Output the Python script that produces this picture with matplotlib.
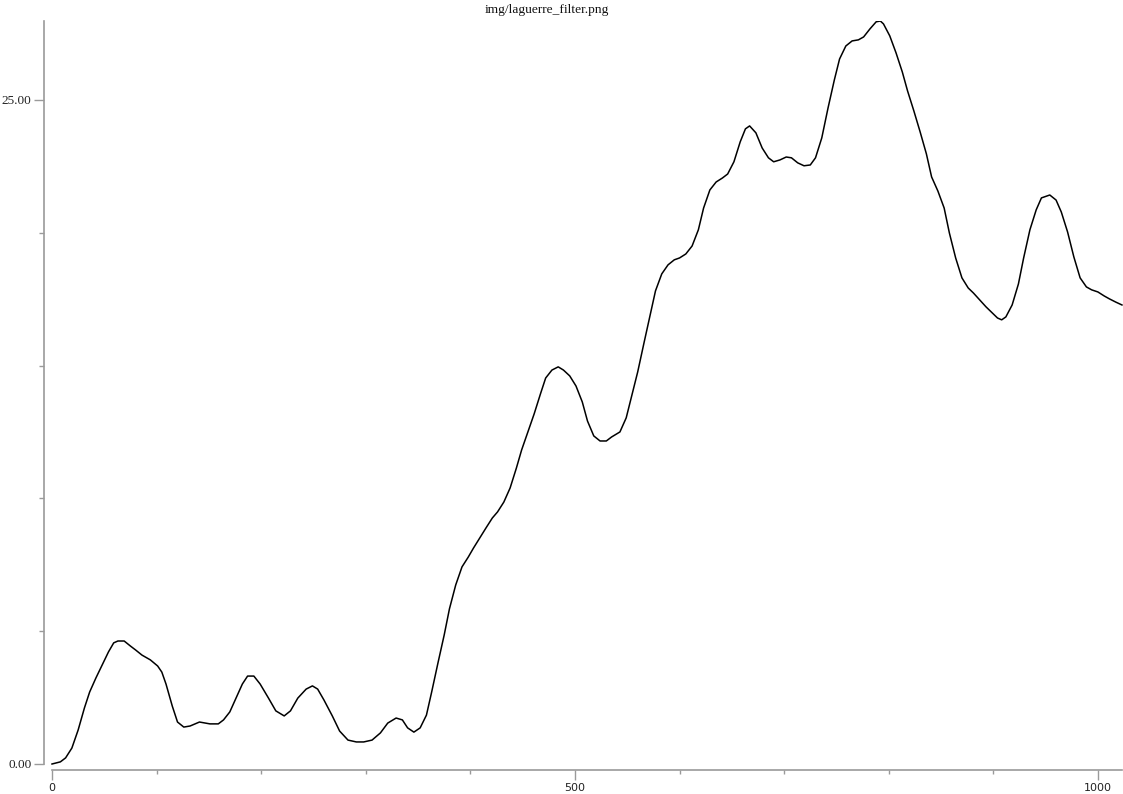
import numpy as np
import matplotlib.pyplot as plt
from matplotlib.ticker import FixedLocator, FixedFormatter

# Filter output
sample = [0, 8, 13, 19, 25, 31, 36, 42, 48, 54, 59, 63, 69, 75, 80, 86, 94, 101, 105, 109,
          115, 120, 126, 132, 141, 151, 159, 164, 170, 176, 182, 187, 193, 199, 207, 214, 222, 228, 235, 243,
          249, 254, 260, 268, 275, 283, 291, 298, 306, 314, 321, 329, 335, 340, 346, 352, 358, 363, 369, 375,
          380, 386, 392, 398, 403, 409, 415, 421, 426, 432, 438, 444, 449, 455, 461, 467, 472, 478, 484, 489,
          495, 501, 507, 512, 518, 524, 530, 535, 543, 549, 554, 560, 566, 572, 577, 583, 589, 595, 600, 606,
          612, 618, 623, 629, 635, 641, 646, 652, 658, 663, 667, 673, 679, 685, 690, 696, 702, 707, 713, 719,
          725, 730, 736, 742, 748, 753, 759, 765, 771, 776, 782, 788, 792, 795, 801, 807, 813, 818, 824, 830,
          836, 841, 847, 853, 858, 864, 870, 876, 881, 887, 893, 899, 904, 908, 912, 918, 924, 929, 935, 941,
          946, 954, 960, 965, 971, 977, 983, 989, 994, 1000, 1006, 1011, 1017, 1023]
value = [0.00, 0.08, 0.23, 0.60, 1.28, 2.11, 2.71, 3.24, 3.73, 4.22, 4.56, 4.63, 4.63, 4.44, 4.29, 4.10, 3.92, 3.69, 3.46, 3.01,
         2.18, 1.58, 1.39, 1.43, 1.58, 1.51, 1.51, 1.66, 1.96, 2.48, 3.01, 3.31, 3.31, 3.01, 2.48, 2.00, 1.81, 2.00, 2.48, 2.82,
         2.94, 2.82, 2.41, 1.81, 1.24, 0.90, 0.83, 0.83, 0.90, 1.17, 1.54, 1.73, 1.66, 1.36, 1.20, 1.36, 1.84, 2.71, 3.80, 4.86,
         5.84, 6.74, 7.42, 7.79, 8.13, 8.51, 8.89, 9.26, 9.49, 9.86, 10.39, 11.14, 11.82, 12.50, 13.18, 13.93, 14.53, 14.83, 14.95, 14.83,
         14.61, 14.23, 13.63, 12.91, 12.35, 12.16, 12.16, 12.31, 12.50, 13.03, 13.82, 14.76, 15.85, 16.91, 17.81, 18.45, 18.79, 18.98, 19.05, 19.20,
         19.50, 20.11, 20.93, 21.61, 21.91, 22.06, 22.21, 22.67, 23.42, 23.91, 24.02, 23.76, 23.19, 22.82, 22.67, 22.74, 22.85, 22.82, 22.63, 22.52,
         22.55, 22.82, 23.57, 24.70, 25.75, 26.54, 27.03, 27.22, 27.26, 27.37, 27.67, 27.94, 27.97, 27.86, 27.41, 26.77, 26.05, 25.34, 24.59, 23.80,
         22.97, 22.10, 21.57, 20.93, 19.99, 19.05, 18.30, 17.92, 17.73, 17.47, 17.21, 16.98, 16.79, 16.72, 16.83, 17.28, 18.07, 19.05, 20.11, 20.86,
         21.31, 21.42, 21.23, 20.78, 20.03, 19.09, 18.30, 17.96, 17.85, 17.77, 17.62, 17.51, 17.39, 17.28]

x_major = [0, 500, 1000]
x_major_labels = ['0', '500', '1000']
x_minor = [100, 200, 300, 400, 600, 700, 800, 900]
y_major = [0, 25]
y_major_labels = ['0.00', '25.00']
y_minor = [5, 10, 15, 20]

axis_grey = '#9a9a9a'

fig = plt.figure(figsize=(11.23, 7.94), dpi=100)
ax = fig.add_axes([44 / 1123, 24 / 794, 1079 / 1123, 749 / 794])

ax.plot(sample, value, color='black', linewidth=1.1, solid_joinstyle='round')

ax.set_xlim(-7.65, 1024)
ax.set_ylim(-0.226, max(value))

for side in ['top', 'right']:
    ax.spines[side].set_visible(False)
ax.spines['bottom'].set_bounds(0, max(sample))
ax.spines['left'].set_bounds(0, max(value))
for side in ['bottom', 'left']:
    ax.spines[side].set_color(axis_grey)
    ax.spines[side].set_linewidth(1.2)

ax.xaxis.set_major_locator(FixedLocator(x_major))
ax.xaxis.set_major_formatter(FixedFormatter(x_major_labels))
ax.xaxis.set_minor_locator(FixedLocator(x_minor))
ax.yaxis.set_major_locator(FixedLocator(y_major))
ax.yaxis.set_major_formatter(FixedFormatter(y_major_labels))
ax.yaxis.set_minor_locator(FixedLocator(y_minor))

ax.tick_params(axis='x', which='major', length=7.2, width=1, color=axis_grey,
               pad=2.5, labelsize=8, labelcolor='#222222')
ax.tick_params(axis='x', which='minor', length=3, width=1, color=axis_grey)
ax.tick_params(axis='y', which='major', length=7.5, width=1, color=axis_grey,
               pad=1.5, labelsize=9.5, labelcolor='#222222')
ax.tick_params(axis='y', which='minor', length=3.6, width=1, color=axis_grey)
for lbl in ax.get_yticklabels():
    lbl.set_family('Liberation Serif')

fig.text(547 / 1123, 1 - 10 / 794, 'img/laguerre_filter.png', ha='center', va='center',
         family='Liberation Serif', fontsize=9.6, color='#111111')

fig.savefig('out.png', dpi=100)
